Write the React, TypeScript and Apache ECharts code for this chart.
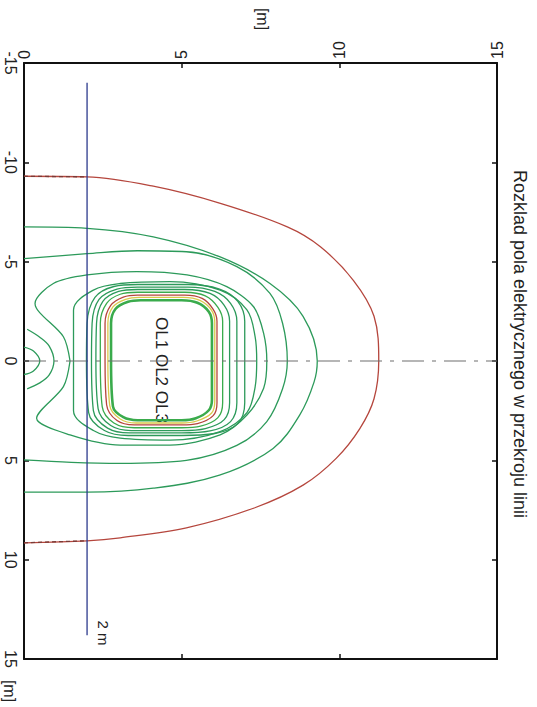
import React, { useEffect, useRef } from "react";
import * as echarts from "echarts";

// Axis ranges (height above ground [m] on the horizontal axis, horizontal distance [m] on the vertical axis)
const heightRange = [0, 15];
const distRange = [-15, 15];

const titleText = "Rozklad pola elektrycznego w przekroju linii";
const conductorLabel = "OL1 OL2 OL3";
const measureLabel = "2 m";
const unitLabel = "[m]";

// Measurement line at 2 m
const measureLine: number[][] = [[2, -14], [2, 13.8]];
// Line axis (dash-dot)
const axisLine: number[][] = [[0, 0], [15, 0]];

// Contours: points are [height, distance]
const redOuter: number[][] = [
  [0, -9.3], [2.0, -9.27], [4.1, -8.8], [6.2, -7.95], [8.35, -6.75], [9.4, -5.75],
  [10.45, -4.05], [11.1, -2.25], [11.25, 0], [11.1, 1.9], [10.65, 3.4], [9.9, 4.9],
  [8.85, 6.25], [7.3, 7.4], [5.15, 8.4], [3.05, 8.9], [2.0, 9.05], [0, 9.15],
];
const redOuterStubTop: number[][] = [[0, -9.3], [2.0, -9.27]];
const redOuterStubBottom: number[][] = [[0, 9.15], [2.0, 9.05]];

const green1: number[][] = [
  [0, -6.75], [2, -6.68], [4.1, -6.25], [6.2, -5.25], [7.8, -3.9], [8.85, -2.25],
  [9.3, 0], [9.2, 1.05], [8.75, 2.7], [7.9, 4.4], [6.2, 5.75], [4.1, 6.4], [2, 6.6], [0, 6.6],
];
const green2: number[][] = [
  [0, -5.15], [2, -5.4], [3.6, -5.55], [5.15, -5.5], [6.75, -4.75], [7.8, -3.4],
  [8.2, -1.9], [8.35, 0], [8.2, 1.4], [7.7, 3.05], [6.75, 4.25], [5.15, 5.0],
  [3.05, 5.15], [1.5, 5.1], [0, 4.98],
];
const green3: number[][] = [
  [1.46, 0], [1.25, -1.22], [0.35, -2.9], [0.93, -3.9], [2, -4.33], [3.58, -4.5],
  [5.17, -4.33], [6.43, -3.74], [7.28, -2.73], [7.6, -1.39], [7.7, 0], [7.6, 1.37],
  [7.07, 2.72], [6.22, 3.72], [4.63, 4.23], [3.05, 4.23], [1.46, 3.72], [0.4, 2.88],
  [1.25, 1.29], [1.46, 0],
];
const green4: number[][] = [
  [1.57, 0], [1.57, -2.57], [2.2, -3.57], [3.05, -3.9], [4.63, -4.0], [6.22, -3.57],
  [7.07, -2.57], [7.33, -1.22], [7.38, 0], [7.33, 1.3], [7.07, 2.6], [6.22, 3.55],
  [4.63, 3.98], [3.05, 3.88], [2.2, 3.5], [1.57, 2.5], [1.57, 0],
];
const green5: number[][] = [
  [1.98, 0], [2.0, -1.9], [2.25, -3.2], [2.85, -3.75], [3.6, -3.85], [5.2, -3.85],
  [6.2, -3.62], [6.78, -3.0], [7.0, -2.0], [7.0, 0], [7.0, 2.1], [6.78, 3.15],
  [6.05, 3.65], [5.0, 3.75], [3.3, 3.75], [2.55, 3.5], [2.05, 2.6], [1.98, 0],
];
const green6: number[][] = [
  [2.14, 0], [2.16, -1.9], [2.38, -3.1], [2.95, -3.62], [3.6, -3.72], [5.2, -3.72],
  [6.05, -3.5], [6.55, -2.9], [6.75, -2.0], [6.75, 0], [6.75, 2.1], [6.55, 3.05],
  [5.9, 3.52], [5.0, 3.62], [3.35, 3.62], [2.65, 3.38], [2.2, 2.5], [2.14, 0],
];
const green7: number[][] = [
  [2.28, 0], [2.3, -1.9], [2.5, -3.0], [3.0, -3.5], [3.6, -3.6], [5.1, -3.6],
  [5.9, -3.4], [6.35, -2.8], [6.52, -2.0], [6.52, 0], [6.52, 2.1], [6.35, 2.95],
  [5.75, 3.4], [5.0, 3.5], [3.4, 3.5], [2.75, 3.25], [2.35, 2.4], [2.28, 0],
];
const green8: number[][] = [
  [2.42, 0], [2.42, -1.9], [2.62, -2.9], [3.05, -3.36], [3.6, -3.46], [5.1, -3.46],
  [5.75, -3.28], [6.15, -2.7], [6.3, -2.0], [6.3, 0], [6.3, 2.1], [6.15, 2.85],
  [5.6, 3.28], [5.0, 3.36], [3.5, 3.36], [2.85, 3.12], [2.48, 2.3], [2.42, 0],
];
const redInner: number[][] = [
  [2.57, 0], [2.57, -1.9], [2.75, -2.8], [3.15, -3.22], [3.6, -3.32], [5.1, -3.32],
  [5.65, -3.15], [6.0, -2.6], [6.12, -2.0], [6.12, 0], [6.12, 2.1], [6.0, 2.75],
  [5.5, 3.15], [5.0, 3.22], [3.5, 3.22], [2.95, 3.0], [2.62, 2.2], [2.57, 0],
];
const yellowInner: number[][] = [
  [2.66, 0], [2.66, -1.9], [2.82, -2.72], [3.22, -3.1], [3.65, -3.2], [5.05, -3.2],
  [5.58, -3.05], [5.95, -2.55], [6.05, -1.95], [6.05, 0], [6.05, 2.0], [5.95, 2.62],
  [5.48, 3.02], [5.0, 3.12], [3.55, 3.12], [3.05, 2.92], [2.72, 2.25], [2.66, 0],
];
const greenInner: number[][] = [
  [2.76, 0], [2.76, -1.9], [2.9, -2.62], [3.3, -2.98], [3.7, -3.06], [5.0, -3.06],
  [5.5, -2.93], [5.86, -2.48], [5.96, -1.9], [5.96, 0], [5.96, 1.95], [5.86, 2.48],
  [5.45, 2.88], [5.0, 2.98], [3.6, 2.98], [3.15, 2.83], [2.82, 2.28], [2.76, 0],
];
const groundArc1: number[][] = [[0, -0.7], [0.3, -0.5], [0.5, 0], [0.3, 0.5], [0, 0.68]];
const groundArc2: number[][] = [
  [0.1, -1.6], [0.5, -1.2], [0.8, -0.75], [0.95, 0], [0.8, 0.7], [0.5, 1.1], [0.1, 1.4],
];

const RED = "#b5463d";
const GREEN = "#2c9a5a";
const GREEN_LIGHT = "#3aab4c";
const YELLOW = "#d9c94c";
const BLUE = "#2c3a8c";
const FONT = "'Liberation Sans', Arial, Helvetica, sans-serif";

function lineSeries(data: number[][], color: string, width: number, smooth: number | boolean = 0.35, extra: any = {}) {
  return {
    type: "line",
    data,
    xAxisIndex: 0,
    yAxisIndex: 0,
    showSymbol: false,
    symbol: "none",
    smooth,
    silent: true,
    lineStyle: { color, width, ...(extra.lineStyle || {}) },
    z: extra.z ?? 2,
  };
}

export default function App() {
  const ref = useRef<HTMLDivElement>(null);
  useEffect(() => {
    if (!ref.current) return;
    const chart = echarts.init(ref.current, null, { renderer: "svg" });
    const frameLine = { show: true, onZero: false, lineStyle: { color: "#111", width: 2 } };
    const tick = { show: true, inside: true, length: 5, lineStyle: { color: "#111", width: 1.5 } };
    const option: any = {
      animation: false,
      backgroundColor: "#ffffff",
      textStyle: { fontFamily: FONT },
      grid: { left: 24, top: 63, width: 473, height: 596, containLabel: false },
      xAxis: [
        {
          type: "value", min: heightRange[0], max: heightRange[1], interval: 5, position: "top",
          axisLine: frameLine, axisTick: tick, splitLine: { show: false },
          axisLabel: { rotate: -90, margin: 4, fontSize: 16, color: "#222", fontFamily: FONT },
        },
        {
          type: "value", min: heightRange[0], max: heightRange[1], interval: 5, position: "bottom",
          axisLine: frameLine, axisTick: tick, splitLine: { show: false }, axisLabel: { show: false },
        },
      ],
      yAxis: [
        {
          type: "value", min: distRange[0], max: distRange[1], interval: 5, inverse: true, position: "left",
          axisLine: frameLine, axisTick: tick, splitLine: { show: false },
          axisLabel: { rotate: -90, margin: 6, fontSize: 16, color: "#222", fontFamily: FONT },
        },
        {
          type: "value", min: distRange[0], max: distRange[1], interval: 5, inverse: true, position: "right",
          axisLine: frameLine, axisTick: tick, splitLine: { show: false }, axisLabel: { show: false },
        },
      ],
      series: [
        lineSeries(redOuter, RED, 1.3),
        lineSeries(redOuterStubTop, "#7a3a36", 1.3, false, { lineStyle: { type: [4, 3] }, z: 3 }),
        lineSeries(redOuterStubBottom, "#7a3a36", 1.3, false, { lineStyle: { type: [4, 3] }, z: 3 }),
        lineSeries(green1, GREEN, 1.3),
        lineSeries(green2, GREEN, 1.3),
        lineSeries(green3, GREEN, 1.3, 0.3),
        lineSeries(green4, GREEN, 1.3),
        lineSeries(green5, GREEN, 1.3),
        lineSeries(green6, GREEN, 1.3),
        lineSeries(green7, GREEN, 1.3),
        lineSeries(green8, GREEN_LIGHT, 1.3),
        lineSeries(redInner, RED, 1.3),
        lineSeries(yellowInner, YELLOW, 1.3),
        lineSeries(greenInner, GREEN_LIGHT, 2.6),
        lineSeries(groundArc1, GREEN, 1.3),
        lineSeries(groundArc2, GREEN, 1.3),
        lineSeries(axisLine, "#6f6f6f", 1.1, false, { lineStyle: { type: [22, 8, 4, 8] }, z: 4 }),
        lineSeries(measureLine, BLUE, 1.3, false, { z: 5 }),
      ],
      graphic: [
        {
          type: "text", x: 520, y: 344, rotation: -Math.PI / 2, silent: true,
          style: { text: titleText, fontSize: 18, fontFamily: FONT, fill: "#222", textAlign: "center", textVerticalAlign: "middle" },
        },
        {
          type: "text", x: 262, y: 19, rotation: -Math.PI / 2, silent: true,
          style: { text: unitLabel, fontSize: 16, fontFamily: FONT, fill: "#222", textAlign: "center", textVerticalAlign: "middle" },
        },
        {
          type: "text", x: 9, y: 691, rotation: -Math.PI / 2, silent: true,
          style: { text: unitLabel, fontSize: 16, fontFamily: FONT, fill: "#222", textAlign: "center", textVerticalAlign: "middle" },
        },
        {
          type: "text", x: 103, y: 633, rotation: -Math.PI / 2, silent: true,
          style: { text: measureLabel, fontSize: 15, fontFamily: FONT, fill: "#222", textAlign: "center", textVerticalAlign: "middle" },
        },
        {
          type: "text", x: 161, y: 370, rotation: -Math.PI / 2, silent: true,
          style: { text: conductorLabel, fontSize: 17, fontFamily: FONT, fill: "#222", textAlign: "center", textVerticalAlign: "middle" },
        },
      ],
    };
    chart.setOption(option);
    return () => chart.dispose();
  }, []);
  return <div ref={ref} style={{ width: 537, height: 707, position: "absolute", left: 0, top: 0 }} />;
}
